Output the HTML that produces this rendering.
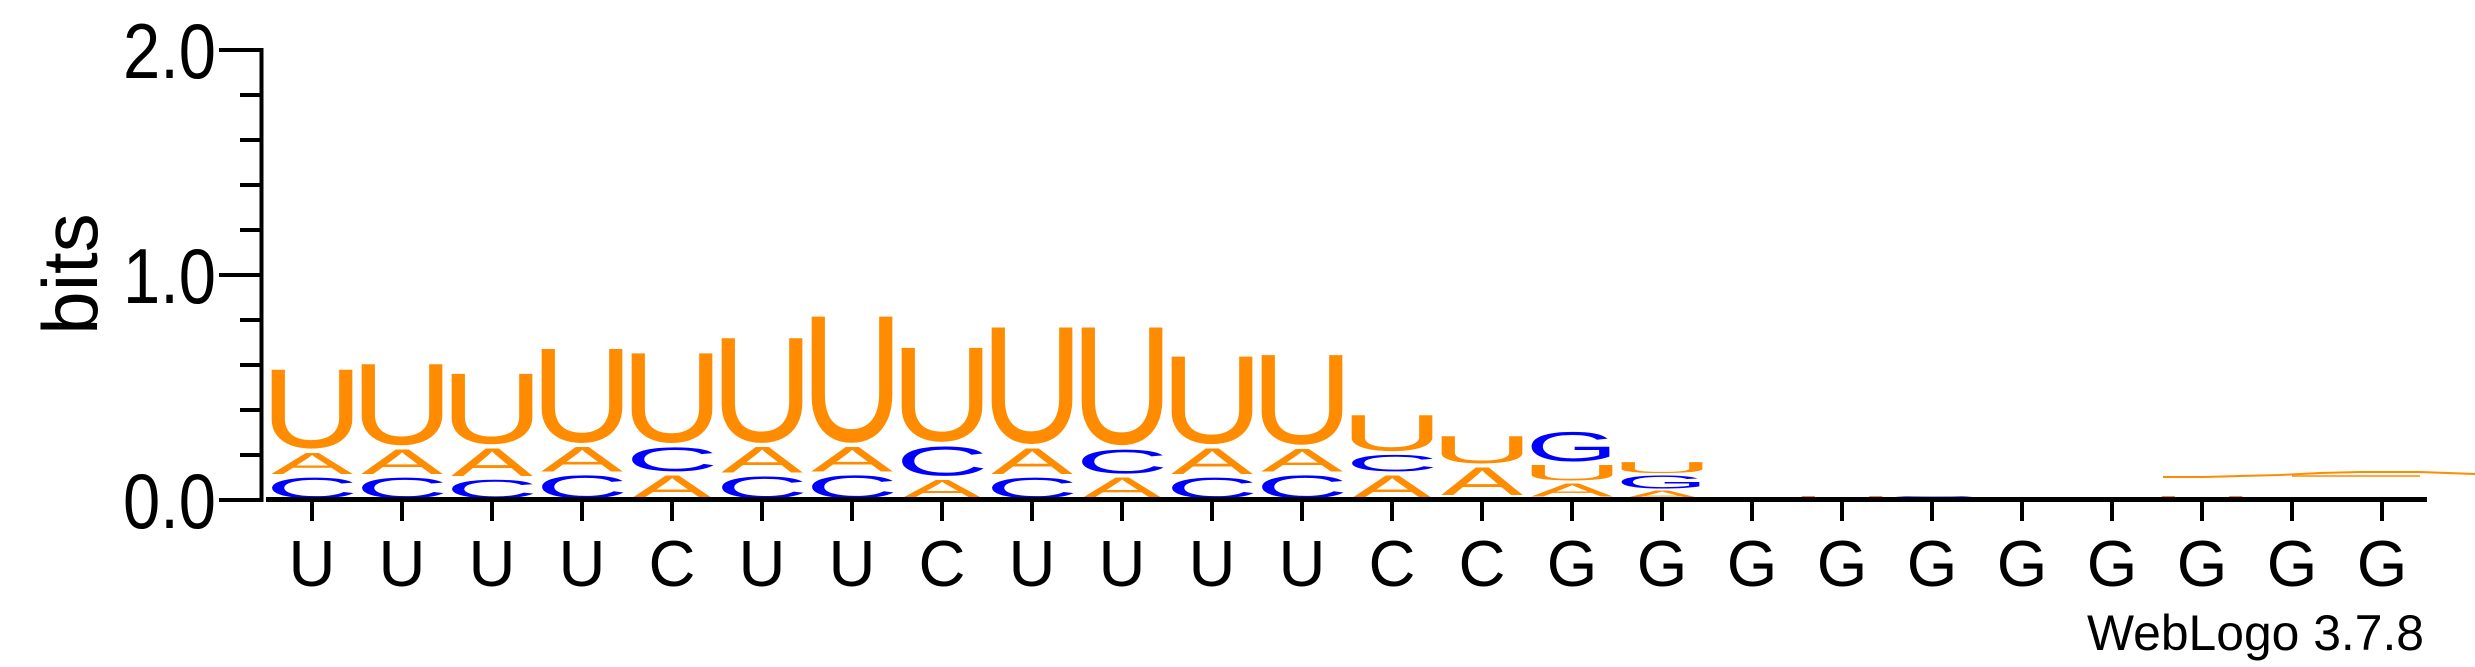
<!DOCTYPE html>
<html><head><meta charset="utf-8"><style>
html,body{margin:0;padding:0;background:#fff;}
svg{display:block;font-family:"Liberation Sans",Arial,sans-serif;}
</style></head><body>
<svg id="logo" width="2475" height="667" viewBox="0 0 2475 667" xmlns="http://www.w3.org/2000/svg">
<g id="marks"></g>
<g id="axes"></g>
<path d="M2163,477 L2205,477 L2240,476 L2280,475 L2320,473 L2360,472 L2420,472 L2475,474" stroke="#ff8c00" stroke-width="2" fill="none"/>
<path d="M2292,476 L2420,476" stroke="#ff8c00" stroke-width="1.5" fill="none"/>
<text x="0" y="0" font-size="78" text-anchor="middle" transform="translate(97,274) rotate(-90)">bits</text>
<text x="2424" y="650" font-size="50" text-anchor="end" textLength="337" lengthAdjust="spacingAndGlyphs">WebLogo 3.7.8</text>
</svg>
<script>
const positionLabels = ["U","U","U","U","C","U","U","C","U","U","U","U","C","C","G","G","G","G","G","G","G","G","G","G"];
const stackOrder = ["CAU","CAU","CAU","CAU","ACU","CAU","CAU","ACU","CAU","ACU","CAU","CAU","ACU","CAU","CAUG","AGU","G","U","C","A","C","U","C","A"];
const bitsA = [0.11,0.125,0.14,0.125,0.12,0.13,0.125,0.10,0.13,0.11,0.13,0.117,0.12,0.14,0.07,0.045,0,0,0,0.015,0,0,0,0.01];
const bitsC = [0.11,0.11,0.10,0.12,0.125,0.115,0.12,0.15,0.11,0.125,0.11,0.12,0.09,0.015,0.01,0,0,0,0.02,0,0.01,0,0.01,0];
const bitsG = [0,0,0,0,0,0,0,0,0,0,0,0,0,0,0.15,0.07,0.015,0,0,0,0,0,0,0];
const bitsU = [0.38,0.39,0.34,0.45,0.43,0.50,0.60,0.45,0.555,0.56,0.42,0.43,0.18,0.14,0.085,0.06,0,0.02,0,0,0,0.02,0,0];
const yTicks = [0,0.2,0.4,0.6,0.8,1.0,1.2,1.4,1.6,1.8,2.0];
const yTickLabels = ["0.0","","","","","1.0","","","","","2.0"];

const NS = "http://www.w3.org/2000/svg";
const y0 = 500, pxPerBit = 225, x0 = 312, step = 90, inkW = 81;
function yScale(b){ return y0 - b * pxPerBit; }
function xScale(i){ return x0 + i * step; }
const colors = {A:"#ff8c00", U:"#ff8c00", C:"#0000ff", G:"#0000ff"};
const glyphW = {A:66, C:63, G:68, U:57};
const glyphH = {A:71.6, C:74, G:74, U:73};
const glyphDrop = {A:0, C:1.3, G:1.3, U:1.3};
const series = {A:bitsA, C:bitsC, G:bitsG, U:bitsU};
const marks = document.getElementById("marks");
const axes = document.getElementById("axes");

for (let i = 0; i < positionLabels.length; i++) {
  let cum = 0;
  const order = stackOrder[i];
  for (const L of order) {
    const b = series[L][i];
    if (!b) continue;
    const yb = yScale(cum), yt = yScale(cum + b);
    cum += b;
    let h = (yb - yt);
    const gap = Math.min(3, h * 0.15);
    h -= gap;
    if (h <= 0.3) continue;
    const t = document.createElementNS(NS, "text");
    
    
    t.setAttribute("x", 0); t.setAttribute("y", 0);
    t.setAttribute("font-size", 100);
    t.setAttribute("text-anchor", "middle");
    t.setAttribute("fill", colors[L]);
    const sx = inkW / glyphW[L], sy = h / glyphH[L];
    t.setAttribute("transform", "translate(" + xScale(i) + "," + (yb - gap/2 - glyphDrop[L]*sy) + ") scale(" + sx + "," + sy + ")");
    t.textContent = L;
    marks.appendChild(t);
  }
}

function line(x1,y1,x2,y2,w,name){
  const l = document.createElementNS(NS, "line");
  
  
  l.setAttribute("x1",x1);l.setAttribute("y1",y1);l.setAttribute("x2",x2);l.setAttribute("y2",y2);
  l.setAttribute("stroke","#000");l.setAttribute("stroke-width",w);
  axes.appendChild(l);
}
line(261.5, 48, 261.5, 502, 4, "y-axis-line");
line(266, 499.5, 2427, 499.5, 5, "x-axis-line");
for (let k = 0; k < yTicks.length; k++) {
  const y = yScale(yTicks[k]);
  const major = yTickLabels[k] !== "";
  line(major ? 219 : 240, y, 262, y, 4, "y-tick");
  if (major) {
    const t = document.createElementNS(NS, "text");
    
    
    t.setAttribute("x", 216); t.setAttribute("y", y + 28);
    t.setAttribute("font-size", 78); t.setAttribute("text-anchor", "end");
    t.setAttribute("textLength", 93); t.setAttribute("lengthAdjust", "spacingAndGlyphs");
    t.textContent = yTickLabels[k];
    axes.appendChild(t);
  }
}
for (let i = 0; i < positionLabels.length; i++) {
  const x = xScale(i);
  line(x, 502, x, 521, 4, "x-tick");
  const t = document.createElementNS(NS, "text");
  
  
  t.setAttribute("x", x); t.setAttribute("y", 586);
  t.setAttribute("font-size", 65); t.setAttribute("text-anchor", "middle");
  t.textContent = positionLabels[i];
  axes.appendChild(t);
}
</script>
</body></html>
